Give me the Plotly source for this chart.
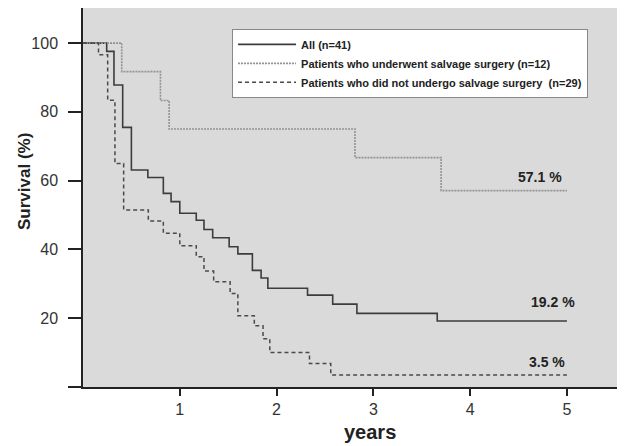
import plotly.graph_objects as go

# Kaplan-Meier step data (years, survival %)
all_t = [0, 0.245, 0.32, 0.41, 0.50, 0.67, 0.83, 0.91, 1.0, 1.17, 1.25, 1.34, 1.51, 1.60,
         1.75, 1.84, 1.91, 2.32, 2.58, 2.83, 3.66, 5.0]
all_s = [100, 97.6, 87.8, 75.5, 63.1, 60.9, 56.3, 53.9, 50.5, 48.5, 45.8, 43.4, 40.8, 38.7,
         33.9, 31.7, 28.7, 26.7, 24.1, 21.4, 19.2, 19.2]

salv_t = [0, 0.40, 0.80, 0.89, 2.81, 3.70, 5.0]
salv_s = [100, 91.7, 83.3, 75.0, 66.7, 57.1, 57.1]

no_t = [0, 0.16, 0.255, 0.33, 0.42, 0.675, 0.83, 1.0, 1.17, 1.25, 1.35, 1.52, 1.60, 1.77,
        1.86, 1.93, 2.34, 2.56, 5.0]
no_s = [100, 96.6, 83.4, 65.0, 51.5, 48.3, 44.7, 41.1, 37.9, 33.7, 30.6, 27.2, 20.7, 17.8,
        14.0, 10.0, 6.8, 3.5, 3.5]

series_names = ["All (n=41)",
                "Patients who underwent salvage surgery (n=12)",
                "Patients who did not undergo salvage surgery  (n=29)"]
end_labels = ["19.2 %", "57.1 %", "3.5 %"]

x_ticks = [1, 2, 3, 4, 5]
y_ticks = [0, 20, 40, 60, 80, 100]
y_ticktext = ["", "20", "40", "60", "80", "100"]

FONT = "Liberation Sans, Arial, sans-serif"

fig = go.Figure()
fig.add_trace(go.Scatter(x=all_t, y=all_s, mode="lines", line_shape="hv",
                         name="<b>" + series_names[0] + "</b>",
                         line=dict(color="#3c3c3c", width=1.6)))
fig.add_trace(go.Scatter(x=salv_t, y=salv_s, mode="lines", line_shape="hv",
                         name="<b>" + series_names[1] + "</b>",
                         line=dict(color="#939393", width=1.6, dash="2px,1px")))
fig.add_trace(go.Scatter(x=no_t, y=no_s, mode="lines", line_shape="hv",
                         name="<b>" + series_names[2] + "</b>",
                         line=dict(color="#4a4a4a", width=1.5, dash="4px,3px")))

# end-value labels (label, x, y, xshift, yshift)
for lbl, t, s, xs, ys in [(end_labels[0], all_t[-1], all_s[-1], 10, 9),
                          (end_labels[1], salv_t[-1], salv_s[-1], -3, 4),
                          (end_labels[2], no_t[-1], no_s[-1], 0, 3)]:
    fig.add_annotation(x=t, y=s, text="<b>" + lbl + "</b>", showarrow=False,
                       xanchor="right", yanchor="bottom", xshift=xs, yshift=ys,
                       font=dict(family=FONT, size=14, color="#222"))

# axis titles
fig.add_annotation(xref="paper", yref="paper", x=-0.107, y=0.541, text="<b>Survival (%)</b>",
                   textangle=-90, showarrow=False, xanchor="center", yanchor="middle",
                   font=dict(family=FONT, size=17, color="#222"))
fig.add_annotation(xref="paper", yref="paper", x=0.5295, y=-0.119, text="<b>years</b>",
                   showarrow=False, xanchor="center", yanchor="middle",
                   font=dict(family=FONT, size=20, color="#222"))

# y-axis line extending below the x axis
fig.add_shape(type="line", xref="x", yref="y", ysizemode="pixel", yanchor=0,
              x0=0, x1=0, y0=0, y1=-16, line=dict(color="#222", width=1.5))

# page body adds an 8px offset; compensate in the margins
fig.update_layout(
    width=617, height=438,
    margin=dict(l=75, r=0, t=0, b=59),
    paper_bgcolor="white",
    plot_bgcolor="#dadada",
    font=dict(family=FONT, size=16, color="#333"),
    showlegend=True,
    legend=dict(x=0.275, y=0.945, xanchor="left", yanchor="top",
                bgcolor="white", bordercolor="#888", borderwidth=1,
                font=dict(family=FONT, size=11, color="#222"),
                tracegroupgap=0, itemwidth=58,
                entrywidth=336, entrywidthmode="pixels"),
    xaxis=dict(range=[0, 5.6], tickvals=x_ticks, ticks="outside", ticklen=7,
               tickwidth=1.5, tickcolor="#222", showgrid=False, zeroline=False,
               showline=True, linecolor="#222", linewidth=1.5,
               tickfont=dict(size=16, color="#333")),
    yaxis=dict(range=[0, 110.2], tickvals=y_ticks, ticktext=y_ticktext,
               ticks="outside", ticklen=13, tickwidth=1.5, tickcolor="#222",
               showgrid=False, zeroline=False, showline=True, linecolor="#222",
               linewidth=1.5, tickfont=dict(size=16, color="#333"),
               ticklabelstandoff=7),
)

fig.write_html("out.html")
